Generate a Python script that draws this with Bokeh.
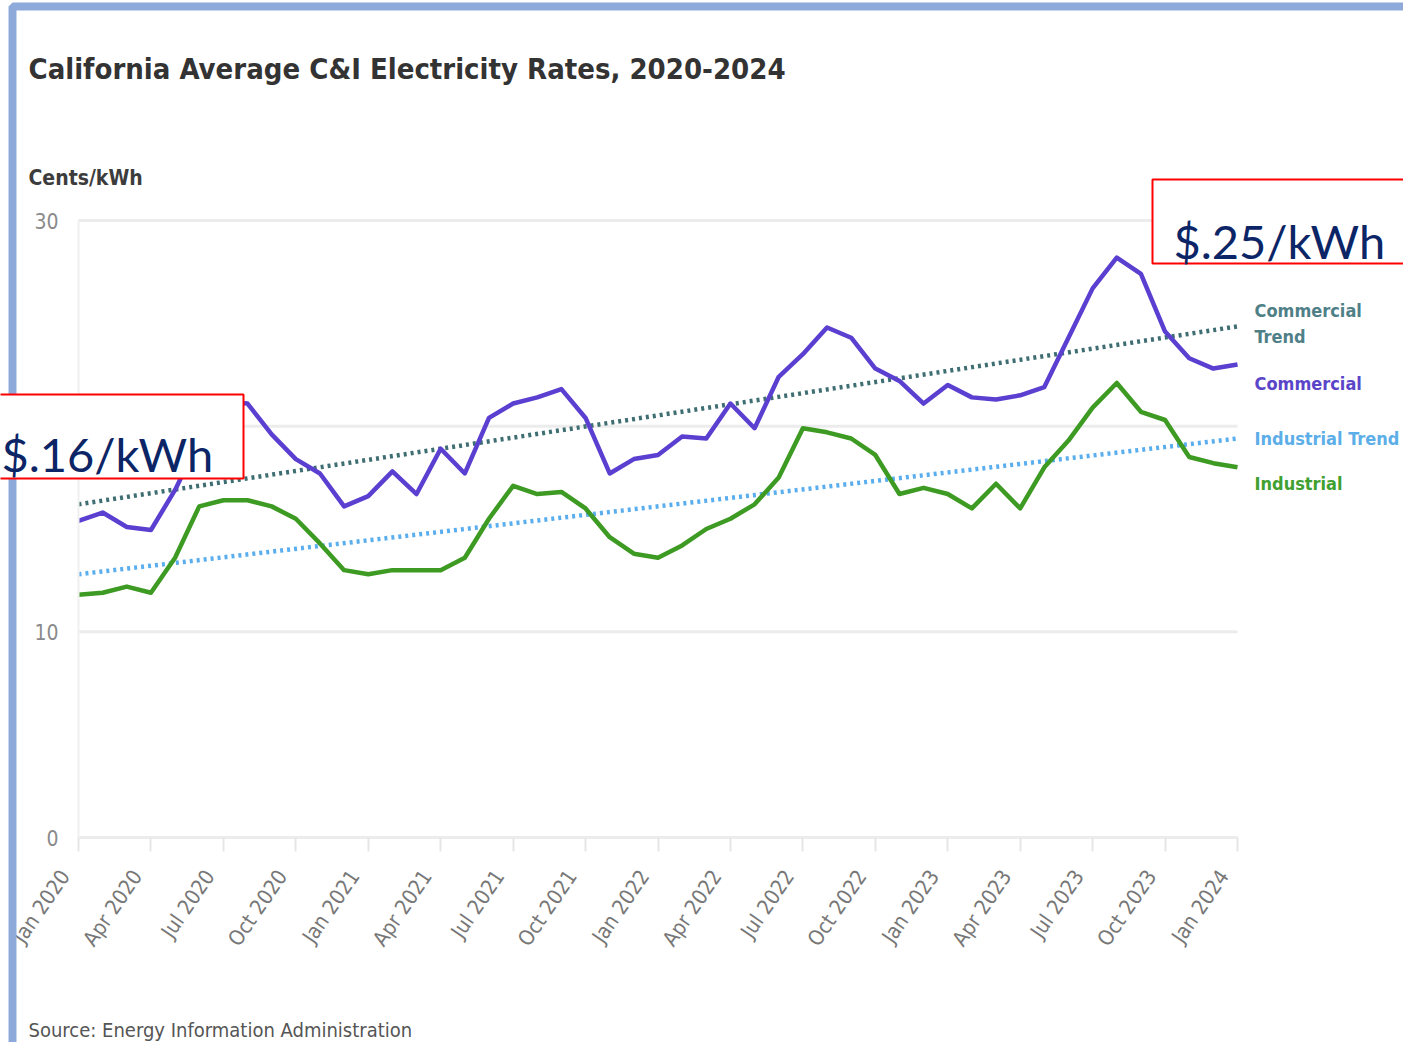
import glob
import os

from bokeh.plotting import figure
from bokeh.models import Range1d, FixedTicker, Label, BoxAnnotation
from bokeh.embed import file_html
from bokeh.resources import INLINE


def has_font(pattern):
    for d in ["/usr/share/fonts", "/usr/local/share/fonts", os.path.expanduser("~/.fonts")]:
        if glob.glob(os.path.join(d, "**", pattern), recursive=True):
            return True
    return False


if has_font("LiberationSansNarrow*"):
    COND = "Liberation Sans Narrow"
elif has_font("DejaVuSansCondensed*"):
    COND = "DejaVu Sans Condensed"
else:
    COND = "Roboto"

# ---------------- data ----------------
month_index = list(range(49))  # Jan 2020 .. Jan 2024, monthly

commercial = [15.4, 15.8, 15.1, 14.95, 16.9, 19.3, 21.2, 21.1, 19.6, 18.4,
              17.7, 16.1, 16.6, 17.8, 16.7, 18.9, 17.7, 20.4, 21.1, 21.4,
              21.8, 20.4, 17.7, 18.4, 18.6, 19.5, 19.4, 21.1, 19.9, 22.4,
              23.5, 24.8, 24.3, 22.8, 22.2, 21.1, 22.0, 21.4, 21.3, 21.5,
              21.9, 24.3, 26.7, 28.2, 27.4, 24.6, 23.3, 22.8, 23.0]

industrial = [11.8, 11.9, 12.2, 11.9, 13.6, 16.1, 16.4, 16.4, 16.1, 15.5,
              14.3, 13.0, 12.8, 13.0, 13.0, 13.0, 13.6, 15.5, 17.1, 16.7,
              16.8, 16.0, 14.6, 13.8, 13.6, 14.2, 15.0, 15.5, 16.2, 17.5,
              19.9, 19.7, 19.4, 18.6, 16.7, 17.0, 16.7, 16.0, 17.2, 16.0,
              18.0, 19.3, 20.9, 22.1, 20.7, 20.3, 18.5, 18.2, 18.0]

trend_x = [0, 48]
commercial_trend = [16.2, 24.85]
industrial_trend = [12.8, 19.4]

tick_positions = list(range(0, 49, 3))
tick_labels = ["Jan 2020", "Apr 2020", "Jul 2020", "Oct 2020",
               "Jan 2021", "Apr 2021", "Jul 2021", "Oct 2021",
               "Jan 2022", "Apr 2022", "Jul 2022", "Oct 2022",
               "Jan 2023", "Apr 2023", "Jul 2023", "Oct 2023",
               "Jan 2024"]
y_ticks = [0, 10, 20, 30]

# ---------------- layout (pixels) ----------------
W, H = 1403, 1042
PL, PR, PT, PB = 78, 1237, 220, 837   # plotting area inside the canvas
x_lo, x_hi = month_index[0], month_index[-1]
y_lo, y_hi = y_ticks[0], y_ticks[-1]
xs = (PR - PL) / (x_hi - x_lo)
ys = (PB - PT) / (y_hi - y_lo)
x_range = Range1d(x_lo - PL / xs, x_hi + (W - PR) / xs)
y_range = Range1d(y_lo - (H - PB) / ys, y_hi + PT / ys)

p = figure(width=W, height=H, x_range=x_range, y_range=y_range,
           output_backend="svg", toolbar_location=None, min_border=0)
p.title.visible = False
p.outline_line_color = None
p.background_fill_color = "white"
p.border_fill_color = "white"
p.xgrid.visible = False
p.ygrid.visible = False

# horizontal grid lines (only across the plotting span)
p.segment(x0=[x_lo] * len(y_ticks), x1=[x_hi] * len(y_ticks), y0=y_ticks, y1=y_ticks,
          line_color="#ececec", line_width=3)

# y axis
p.yaxis.fixed_location = x_lo
p.yaxis.bounds = (y_lo, y_hi)
p.yaxis.ticker = FixedTicker(ticks=y_ticks)
p.yaxis.axis_line_color = "#f0f0f0"
p.yaxis.axis_line_width = 2
p.yaxis.major_tick_line_color = None
p.yaxis.minor_tick_line_color = None
p.yaxis.major_label_standoff = 14
p.yaxis.major_label_text_font = COND
p.yaxis.major_label_text_font_size = "21px"
p.yaxis.major_label_text_color = "#8a8a8a"

# x axis (trailing no-break spaces keep a gap between the tick and the slanted label)
GAP = "\u00a0\u00a0\u00a0\u00a0"
p.xaxis.fixed_location = y_lo
p.xaxis.bounds = (x_lo, x_hi)
p.xaxis.ticker = FixedTicker(ticks=tick_positions)
p.xaxis.major_label_overrides = {t: lab + GAP for t, lab in zip(tick_positions, tick_labels)}
p.xaxis.major_label_orientation = 0.97
p.xaxis.axis_line_color = None
p.xaxis.major_tick_line_color = "#e6e6e6"
p.xaxis.major_tick_line_width = 2
p.xaxis.major_tick_out = 14
p.xaxis.major_tick_in = 0
p.xaxis.minor_tick_line_color = None
p.xaxis.major_label_standoff = 1
p.xaxis.major_label_text_font = COND
p.xaxis.major_label_text_font_size = "21px"
p.xaxis.major_label_text_color = "#777777"

# ---------------- series ----------------
p.line(trend_x, commercial_trend, line_color="#3f6e72", line_width=4.5, line_dash="3 4")
p.line(trend_x, industrial_trend, line_color="#5aaeee", line_width=4.5, line_dash="3 4")
p.line(month_index, commercial, line_color="#5a3fd0", line_width=4.5, line_join="round")
p.line(month_index, industrial, line_color="#3d9a22", line_width=4.5, line_join="round")


# ---------------- texts (screen px relative to canvas) ----------------
def fy(y):  # top-down canvas y -> bottom-up screen units
    return H - y


def add_label(text, x, y, size, color, style="normal", font=COND, align="left"):
    p.add_layout(Label(x=x, y=fy(y), x_units="screen", y_units="screen", text=text,
                       text_font=font, text_font_size=size, text_color=color,
                       text_font_style=style, text_baseline="alphabetic", text_align=align))


def add_box(left, right, top, bottom, **kw):
    p.add_layout(BoxAnnotation(left=left, right=right, top=fy(top), bottom=fy(bottom),
                               left_units="screen", right_units="screen",
                               top_units="screen", bottom_units="screen",
                               level="annotation", line_alpha=1.0, **kw))


# outer light-blue frame (drawn first so the callouts sit on top of it)
add_box(12, 1600, 6, 1054, fill_alpha=0.0, line_color="#8eaadb", line_width=8)

add_label("California Average C&I Electricity Rates, 2020-2024", 28, 68, "29px", "#333333", "bold")
add_label("Cents/kWh", 28, 177, "21px", "#3c3c3c", "bold")
add_label("Source: Energy Information Administration", 28, 1029, "20px", "#555555")

LX = 1254
add_label("Commercial", LX, 310, "18px", "#4f8088", "bold")
add_label("Trend", LX, 336, "18px", "#4f8088", "bold")
add_label("Commercial", LX, 383, "18px", "#5a45c9", "bold")
add_label("Industrial Trend", LX, 438, "18px", "#5caee8", "bold")
add_label("Industrial", LX, 483, "18px", "#40a030", "bold")

# callout boxes
add_box(1152, 1430, 179, 263, fill_color="white", fill_alpha=1.0, line_color="#ff0000", line_width=2)
add_box(-20, 243, 394, 478, fill_color="white", fill_alpha=1.0, line_color="#ff0000", line_width=2)
add_label("$.25/kWh", 1173, 240, "47px", "#0b2566", "normal", "Lato")
add_label("$.16/kWh", 1, 453, "47px", "#0b2566", "normal", "Lato")

open("out.html", "w").write(file_html(p, INLINE))
